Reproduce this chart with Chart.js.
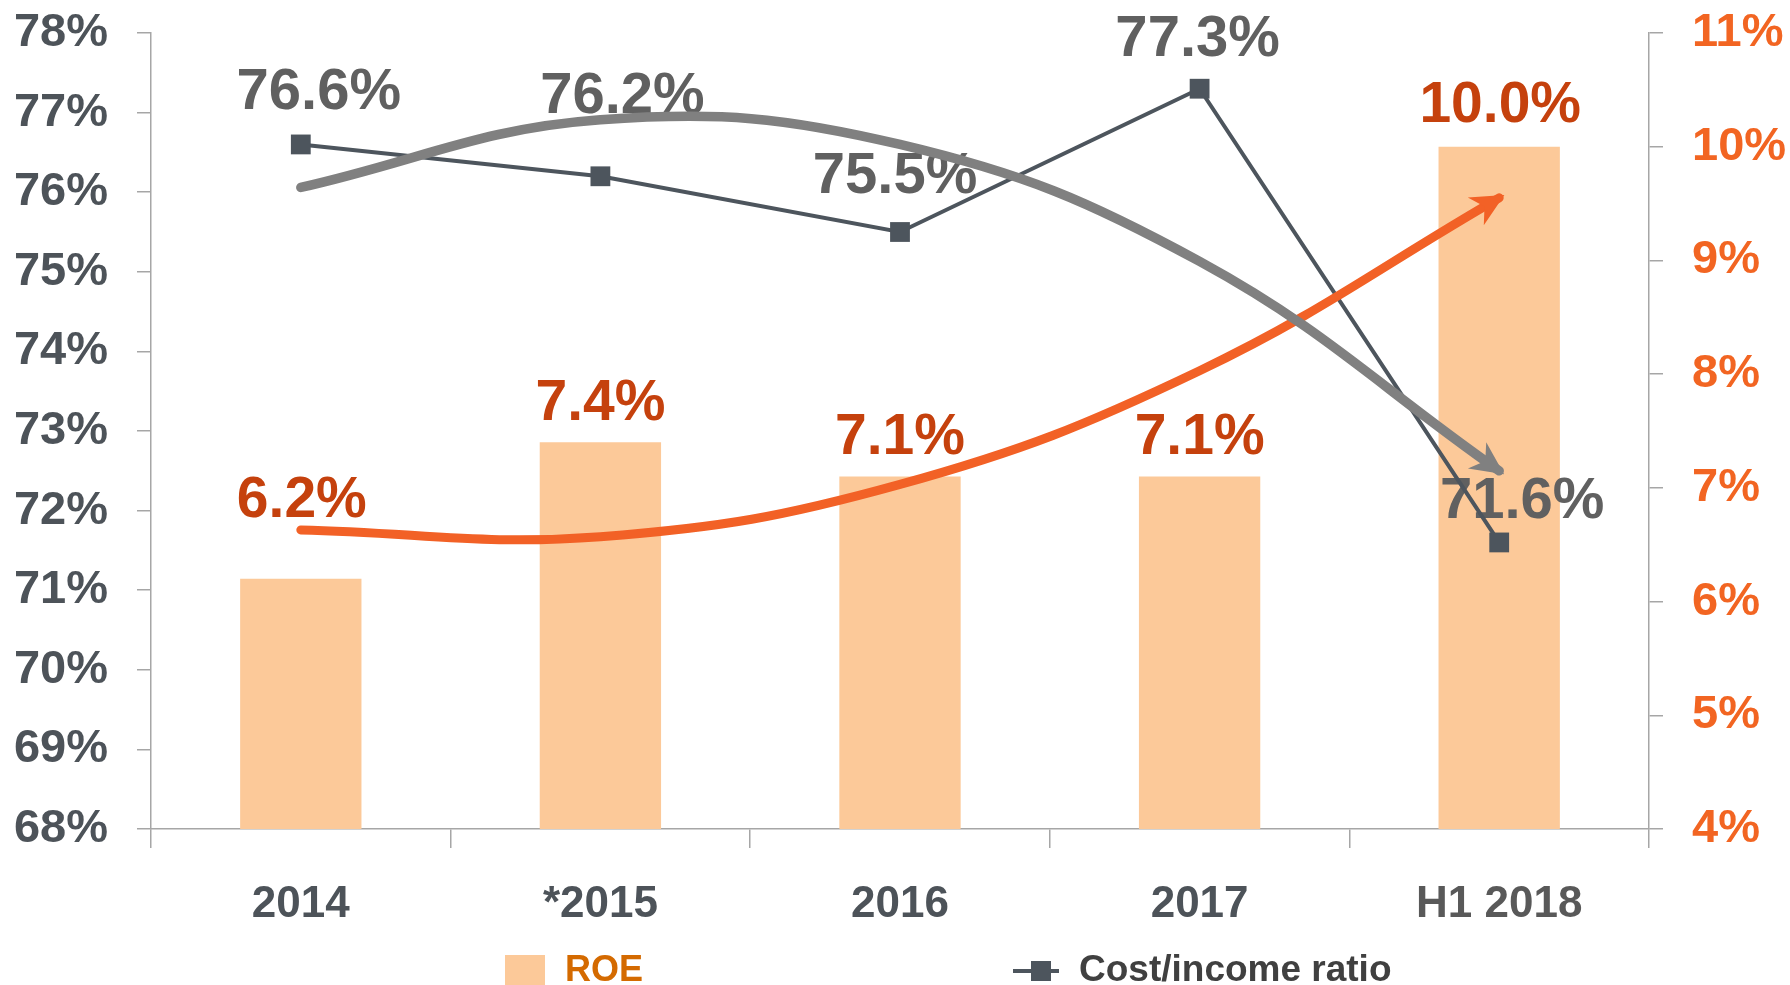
<!DOCTYPE html>
<html>
<head>
<meta charset="utf-8">
<script src="https://cdn.jsdelivr.net/npm/chart.js@4.4.1/dist/chart.umd.min.js"></script>
<style>
  html, body { margin: 0; padding: 0; background: #fff; }
  #wrap { width: 1790px; height: 985px; position: relative; }
</style>
</head>
<body>
<div id="wrap"><canvas id="chart"></canvas></div>
<script>
const categories = ['2014', '*2015', '2016', '2017', 'H1 2018'];
const roe = [6.2, 7.4, 7.1, 7.1, 10.0];
const costIncome = [76.6, 76.2, 75.5, 77.3, 71.6];
// trend curves
const roeTrend = [6.63, 6.57, 7.03, 8.03, 9.55];
const costTrend = [76.06, 76.91, 76.60, 75.13, 72.50];
const leftRange = [68, 78];
const rightRange = [4, 11];

// label nudges in px from the mark
const roeLabelShift = [[1, -82], [0, -43], [0, -43], [0, -43], [1, -45]];
const costLabelShift = [[18, -56], [22, -84], [-5, -60], [-2, -53], [23, -45]];

const FONT = '"Liberation Sans", Arial, sans-serif';
const BAR = '#fcc999';
const DARK = '#4d555d';
const ORANGE = '#f26126';
const GREY = '#808080';
const AXIS = '#a6a6a6';

function centeredText(ctx, text, x, y, size) {
    // put the cap-height middle at y
    ctx.fillText(text, x, y + size * 0.358);
}

const valueLabels = {
    id: 'valueLabels',
    afterDatasetDraw(chart, args) {
        if (args.index !== 0) return;
        const ctx = chart.ctx;
        ctx.save();
        ctx.textAlign = 'center';
        ctx.textBaseline = 'alphabetic';
        ctx.font = 'bold 57px ' + FONT;
        ctx.fillStyle = '#c5410d';
        chart.getDatasetMeta(0).data.forEach((bar, i) => {
            centeredText(ctx, roe[i].toFixed(1) + '%', bar.x + roeLabelShift[i][0], bar.y + roeLabelShift[i][1], 57);
        });
        ctx.font = 'bold 58px ' + FONT;
        ctx.fillStyle = '#606060';
        chart.getDatasetMeta(1).data.forEach((pt, i) => {
            centeredText(ctx, costIncome[i].toFixed(1) + '%', pt.x + costLabelShift[i][0], pt.y + costLabelShift[i][1], 58);
        });
        ctx.restore();
    }
};

const arrowHeads = {
    id: 'arrowHeads',
    afterDatasetDraw(chart, args) {
        if (args.index !== 2 && args.index !== 3) return;
        const pts = args.meta.data;
        const pt = pts[pts.length - 1];
        const ang = Math.atan2(pt.y - pt.cp1y, pt.x - pt.cp1x);
        const ctx = chart.ctx;
        ctx.save();
        ctx.translate(pt.x, pt.y);
        ctx.rotate(ang);
        ctx.beginPath();
        ctx.moveTo(6, 0);
        ctx.lineTo(-27, -16);
        ctx.lineTo(-17, 0);
        ctx.lineTo(-27, 16);
        ctx.closePath();
        ctx.fillStyle = args.index === 2 ? ORANGE : GREY;
        ctx.fill();
        ctx.restore();
    }
};

const bottomLegend = {
    id: 'bottomLegend',
    afterDraw(chart) {
        const ctx = chart.ctx;
        ctx.save();
        ctx.textBaseline = 'alphabetic';
        ctx.textAlign = 'left';
        // ROE
        ctx.fillStyle = BAR;
        ctx.fillRect(505, 955, 40, 40);
        ctx.font = 'bold 36px ' + FONT;
        ctx.fillStyle = '#d46a00';
        centeredText(ctx, 'ROE', 565, 968, 36);
        // Cost/income ratio
        ctx.strokeStyle = DARK;
        ctx.lineWidth = 4;
        ctx.beginPath();
        ctx.moveTo(1013, 971);
        ctx.lineTo(1059, 971);
        ctx.stroke();
        ctx.fillStyle = DARK;
        ctx.fillRect(1031, 961, 20, 20);
        ctx.font = 'bold 37px ' + FONT;
        ctx.fillStyle = '#404040';
        centeredText(ctx, 'Cost/income ratio', 1079, 968, 37);
        ctx.restore();
    }
};

function fixedY(width) {
    return scale => {
        scale.width = width;
        scale.paddingTop = 0;
        scale.paddingBottom = 0;
    };
}

new Chart(document.getElementById('chart'), {
    data: {
        labels: categories,
        datasets: [
            {
                type: 'bar',
                label: 'ROE',
                data: roe,
                yAxisID: 'y1',
                backgroundColor: BAR,
                barPercentage: 0.405,
                categoryPercentage: 1,
                order: 3
            },
            {
                type: 'line',
                label: 'Cost/income ratio',
                data: costIncome,
                yAxisID: 'y',
                borderColor: DARK,
                borderWidth: 4,
                pointStyle: 'rect',
                pointRadius: 14,
                pointBackgroundColor: DARK,
                pointBorderWidth: 0,
                tension: 0,
                order: 2
            },
            {
                type: 'line',
                label: 'ROE trend',
                data: roeTrend,
                yAxisID: 'y1',
                borderColor: ORANGE,
                borderWidth: 9,
                borderCapStyle: 'round',
                pointRadius: 0,
                tension: 0.4,
                order: 1
            },
            {
                type: 'line',
                label: 'Cost/income trend',
                data: costTrend,
                yAxisID: 'y',
                borderColor: GREY,
                borderWidth: 9.5,
                borderCapStyle: 'round',
                pointRadius: 0,
                tension: 0.4,
                order: 0
            }
        ]
    },
    options: {
        responsive: true,
        maintainAspectRatio: false,
        animation: false,
        layout: { padding: { top: 33, left: 0, right: 0, bottom: 0 } },
        scales: {
            x: {
                offset: true,
                grid: {
                    offset: true,
                    drawOnChartArea: false,
                    tickLength: 19,
                    color: AXIS,
                    lineWidth: 1.5
                },
                border: { color: AXIS, width: 1.5 },
                ticks: {
                    padding: 30,
                    maxRotation: 0,
                    font: { family: FONT, size: 44, weight: 'bold' },
                    color: ctx => ctx.index === 4 ? '#595959' : '#4d5359'
                },
                afterFit(scale) { scale.height = 156; }
            },
            y: {
                position: 'left',
                min: leftRange[0],
                max: leftRange[1],
                grid: {
                    drawOnChartArea: false,
                    tickLength: 14,
                    color: AXIS,
                    lineWidth: 1.5
                },
                border: { color: AXIS, width: 1.5 },
                ticks: {
                    stepSize: 1,
                    padding: 29,
                    font: { family: FONT, size: 47, weight: 'bold' },
                    color: '#4d5359',
                    callback: v => v + '%'
                },
                afterFit: fixedY(151)
            },
            y1: {
                position: 'right',
                min: rightRange[0],
                max: rightRange[1],
                grid: {
                    drawOnChartArea: false,
                    tickLength: 14,
                    color: AXIS,
                    lineWidth: 1.5
                },
                border: { color: AXIS, width: 1.5 },
                ticks: {
                    stepSize: 1,
                    padding: 29,
                    font: { family: FONT, size: 47, weight: 'bold' },
                    color: '#f26522',
                    callback: v => v + '%'
                },
                afterFit: fixedY(141)
            }
        },
        plugins: {
            legend: { display: false },
            tooltip: { enabled: false }
        }
    },
    plugins: [valueLabels, arrowHeads, bottomLegend]
});
</script>
</body>
</html>
